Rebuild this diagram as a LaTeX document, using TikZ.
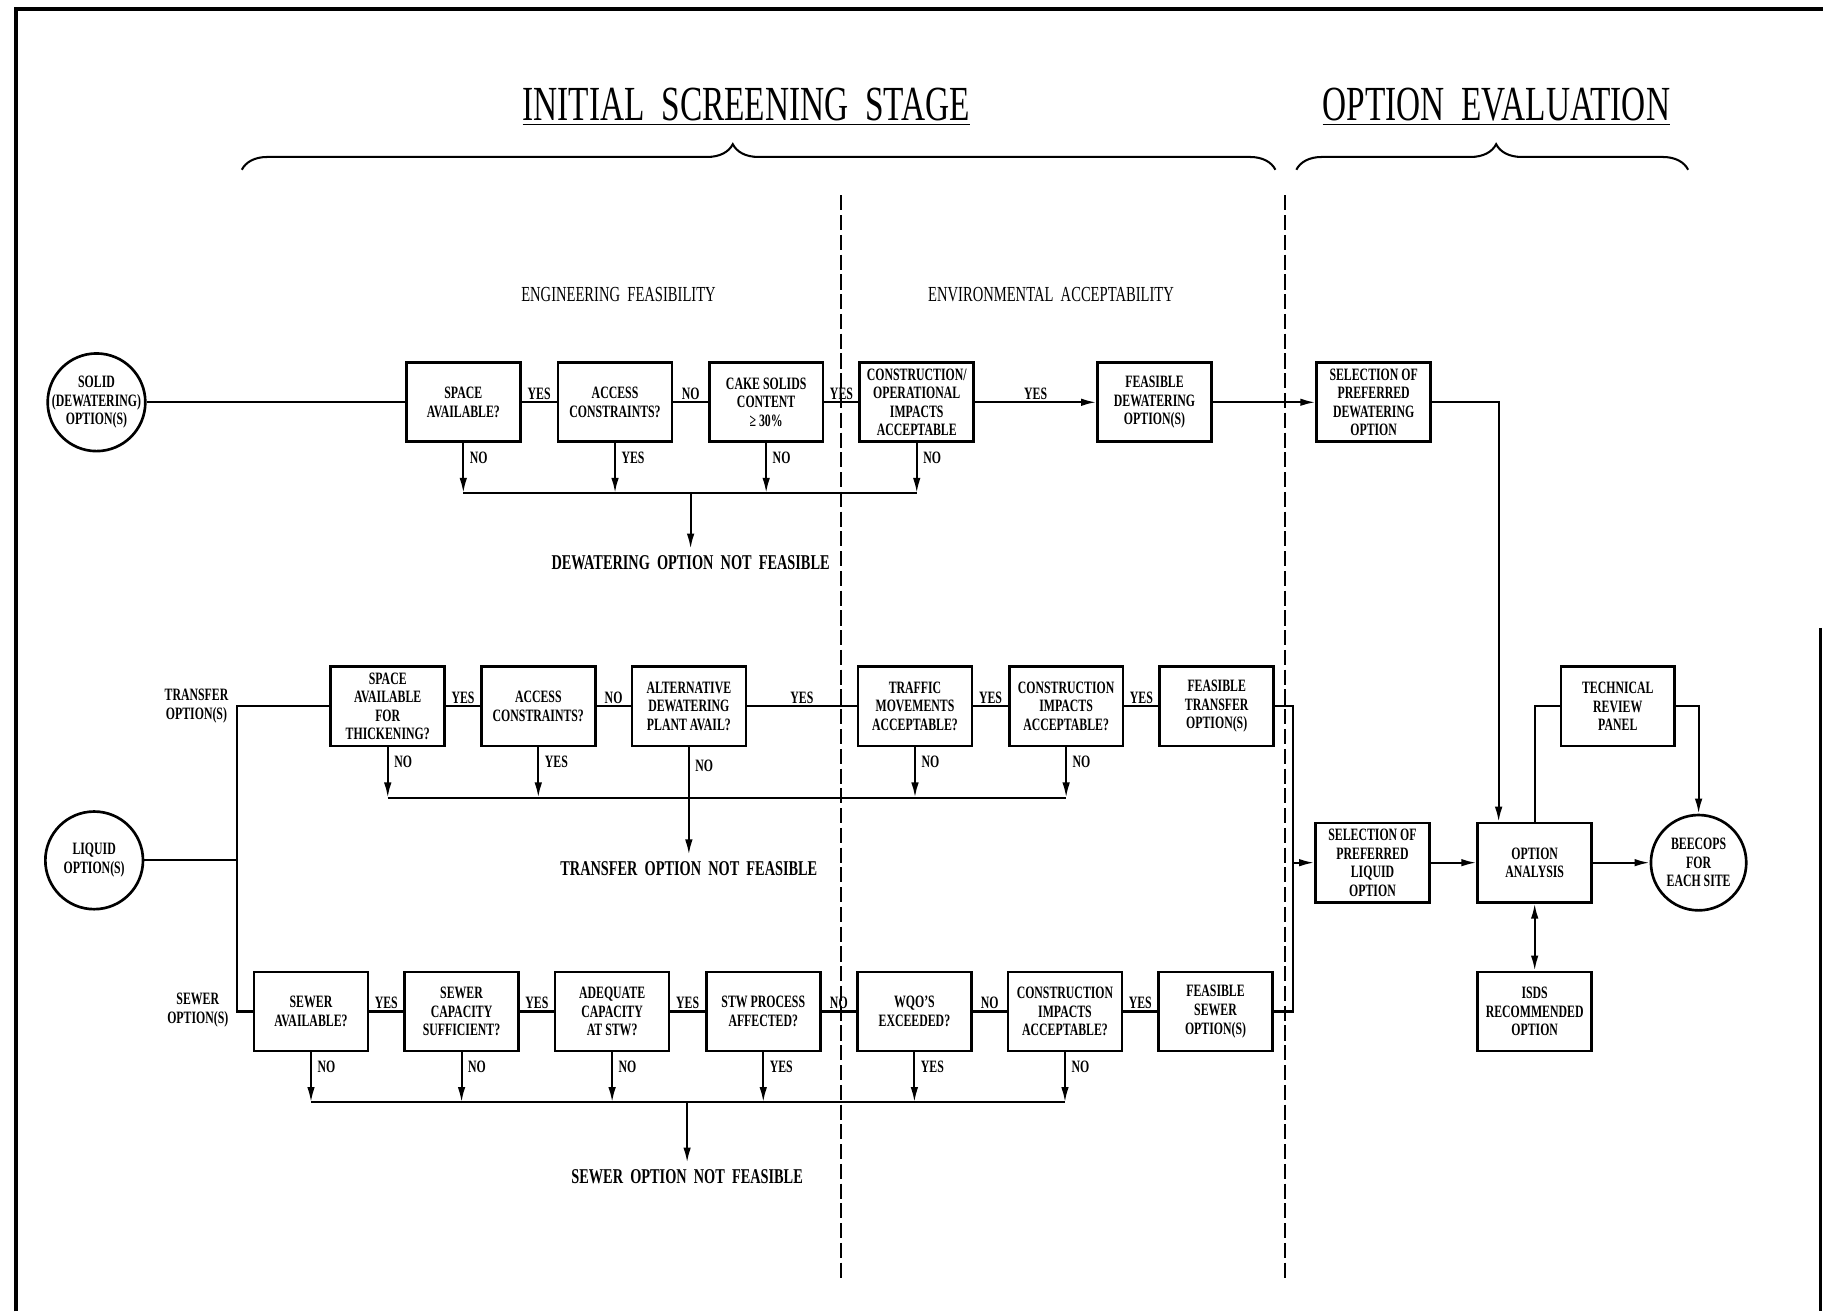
\documentclass[tikz,border=0pt]{standalone}
\usepackage{fontspec}
\setmainfont{Liberation Serif}[FakeStretch=0.68]
\usetikzlibrary{arrows.meta, decorations.pathreplacing}
\newcommand{\boxfont}{\fontsize{8.5}{9.1}\selectfont\bfseries}
\tikzset{
  every picture/.style={line width=1pt},
  qbox/.style={draw, line width=1.3pt, minimum width=19.6mm, minimum height=13.6mm, inner sep=0.5pt, align=center, font=\boxfont},
  term/.style={draw, circle, line width=1.3pt, minimum size=#1, inner sep=-1.5mm, align=center, font=\boxfont},
  term/.default=16.8mm,
  yn/.style={font=\boxfont, inner sep=1pt},
  flow/.style={-{Latex[length=2.6mm, width=1.3mm]}},
  duo/.style={{Latex[length=2.6mm, width=1.3mm]}-{Latex[length=2.6mm, width=1.3mm]}},
  divider/.style={line width=0.9pt, dash pattern=on 2.6mm off 0.8mm},
  stage/.style={font=\fontsize{24}{26}\selectfont, inner sep=1pt},
  phase/.style={font=\fontsize{10.5}{12}\selectfont},
  nf/.style={font=\fontsize{10.3}{12}\selectfont\bfseries, inner sep=1mm},
  side/.style={font=\boxfont, align=center, inner sep=1pt},
  stagebrace/.style={decorate, decoration={brace, amplitude=4.4mm, aspect=#1}, line width=1pt},
}
\newcommand{\qbox}[4]{% name, x, y, text
  \node[qbox] (#1) at (#2,#3) {#4};}

\begin{document}
\begin{tikzpicture}[x=0.2mm, y=-0.2mm]
  \useasboundingbox (0,0) rectangle (1568,1128);
  % page frame
  \draw[line width=2pt] (14,1128) -- (14,8) -- (1568,8);
  \draw[line width=1.6pt] (1566,540) -- (1566,1128);
  % stage headings and braces
  \node[stage] (isst) at (642,92) {\underline{INITIAL\ \ SCREENING\ \ STAGE}};
  \node[stage] (opev) at (1287,92) {\underline{OPTION\ \ EVALUATION}};
  \draw[stagebrace=0.475] (208,146) -- (1097,146);
  \draw[stagebrace=0.51] (1115,146) -- (1452,146);
  \node[phase] (engf) at (532,253) {ENGINEERING\ \ FEASIBILITY};
  \node[phase] (enva) at (904,253) {ENVIRONMENTAL\ \ ACCEPTABILITY};
  \draw[divider] (723,168) -- (723,1100);
  \draw[divider] (1105,168) -- (1105,1100);

  % solid (dewatering) route
  \node[term] (solid) at (83,346) {SOLID\\(DEWATERING)\\OPTION(S)};
  \qbox{space}{398.5}{346}{SPACE\\AVAILABLE?}
  \qbox{access}{529}{346}{ACCESS\\CONSTRAINTS?}
  \qbox{cake}{659}{346}{CAKE SOLIDS\\CONTENT\\≥ 30\%}
  \qbox{constr}{788.5}{346}{CONSTRUCTION/\\OPERATIONAL\\IMPACTS\\ACCEPTABLE}
  \qbox{feasdew}{993}{346}{FEASIBLE\\DEWATERING\\OPTION(S)}
  \qbox{seldew}{1181.5}{346}{SELECTION OF\\PREFERRED\\DEWATERING\\OPTION}
  \draw (solid) -- (space);
  \foreach \a/\b/\t in {space/access/YES, access/cake/NO, cake/constr/YES}
    \draw (\a) -- (\b) node[yn, midway, above] {\t};
  \draw[flow] (constr) -- (feasdew) node[yn, midway, above] {YES};
  \draw[flow] (feasdew) -- (seldew);
  \coordinate (drop1) at (594,424);
  \foreach \n/\t in {space/NO, access/YES, cake/NO, constr/NO}
    \draw[flow] (\n.south) -- (\n.south |- drop1) node[yn, right=0.6mm, pos=0.3] {\t};
  \draw (space.south |- drop1) -- (constr.south |- drop1);
  \node[nf] (nfdew) at (594,484) {DEWATERING\ \ OPTION\ \ NOT\ \ FEASIBLE};
  \draw[flow] (drop1) -- (nfdew);

  % liquid route: transfer
  \node[term] (liquid) at (81,740) {LIQUID\\OPTION(S)};
  \coordinate (split) at (204,740);
  \node[side, anchor=east] (trlab) at (199,607.5) {TRANSFER\\OPTION(S)};
  \qbox{spacet}{333.5}{607.5}{SPACE\\AVAILABLE\\FOR\\THICKENING?}
  \qbox{accesst}{463}{607.5}{ACCESS\\CONSTRAINTS?}
  \qbox{alt}{592.5}{607.5}{ALTERNATIVE\\DEWATERING\\PLANT AVAIL?}
  \qbox{traffic}{787}{607.5}{TRAFFIC\\MOVEMENTS\\ACCEPTABLE?}
  \qbox{constrt}{917}{607.5}{CONSTRUCTION\\IMPACTS\\ACCEPTABLE?}
  \qbox{feast}{1046.5}{607.5}{FEASIBLE\\TRANSFER\\OPTION(S)}
  \draw (liquid) -- (split);
  \draw (spacet.west) -| (split);
  \foreach \a/\b/\t in {spacet/accesst/YES, accesst/alt/NO, alt/traffic/YES, traffic/constrt/YES, constrt/feast/YES}
    \draw (\a) -- (\b) node[yn, midway, above] {\t};
  \coordinate (drop2) at (592.5,686);
  \foreach \n/\t in {spacet/NO, accesst/YES, traffic/NO, constrt/NO}
    \draw[flow] (\n.south) -- (\n.south |- drop2) node[yn, right=0.6mm, pos=0.3] {\t};
  \draw (spacet.south |- drop2) -- (constrt.south |- drop2);
  \node[nf] (nftr) at (592.5,747) {TRANSFER\ \ OPTION\ \ NOT\ \ FEASIBLE};
  \draw[flow] (alt.south) -- (nftr) node[yn, right=0.6mm, pos=0.17] {NO};

  % liquid route: sewer
  \node[side, anchor=east] (swlab) at (199,869) {SEWER\\OPTION(S)};
  \qbox{sewav}{267.5}{870}{SEWER\\AVAILABLE?}
  \qbox{sewcap}{397}{870}{SEWER\\CAPACITY\\SUFFICIENT?}
  \qbox{adeq}{526.5}{870}{ADEQUATE\\CAPACITY\\AT STW?}
  \qbox{stw}{656.5}{870}{STW PROCESS\\AFFECTED?}
  \qbox{wqo}{786.5}{870}{WQO'S\\EXCEEDED?}
  \qbox{constrs}{916}{870}{CONSTRUCTION\\IMPACTS\\ACCEPTABLE?}
  \qbox{feass}{1045.5}{870}{FEASIBLE\\SEWER\\OPTION(S)}
  \draw (sewav.west) -| (split);
  \foreach \a/\b/\t in {sewav/sewcap/YES, sewcap/adeq/YES, adeq/stw/YES, stw/wqo/NO, wqo/constrs/NO, constrs/feass/YES}
    \draw (\a) -- (\b) node[yn, midway, above] {\t};
  \coordinate (drop3) at (591,948);
  \foreach \n/\t in {sewav/NO, sewcap/NO, adeq/NO, stw/YES, wqo/YES, constrs/NO}
    \draw[flow] (\n.south) -- (\n.south |- drop3) node[yn, right=0.6mm, pos=0.3] {\t};
  \draw (sewav.south |- drop3) -- (constrs.south |- drop3);
  \node[nf] (nfsew) at (591,1012) {SEWER\ \ OPTION\ \ NOT\ \ FEASIBLE};
  \draw[flow] (drop3) -- (nfsew);

  % option evaluation
  \qbox{selliq}{1180.5}{742}{SELECTION OF\\PREFERRED\\LIQUID\\OPTION}
  \qbox{oa}{1320}{742}{OPTION\\ANALYSIS}
  \qbox{trp}{1391.5}{607.5}{TECHNICAL\\REVIEW\\PANEL}
  \qbox{isds}{1320}{870}{ISDS\\RECOMMENDED\\OPTION}
  \node[term=16.4mm] (beecops) at (1461,742) {BEECOPS\\FOR\\EACH SITE};
  \coordinate (liqjoin) at (1112,742);
  \draw (feast.east) -| (liqjoin);
  \draw (feass.east) -| (liqjoin);
  \draw[flow] (liqjoin) -- (selliq);
  \draw[flow] (selliq) -- (oa);
  \draw[flow] (oa) -- (beecops);
  \draw[flow] (seldew.east) -| ([xshift=-6.2mm]oa.north);
  \draw (oa.north) |- (trp.west);
  \draw[flow] (trp.east) -| (beecops.north);
  \draw[duo] (oa.south) -- (isds.north);
\end{tikzpicture}
\end{document}
